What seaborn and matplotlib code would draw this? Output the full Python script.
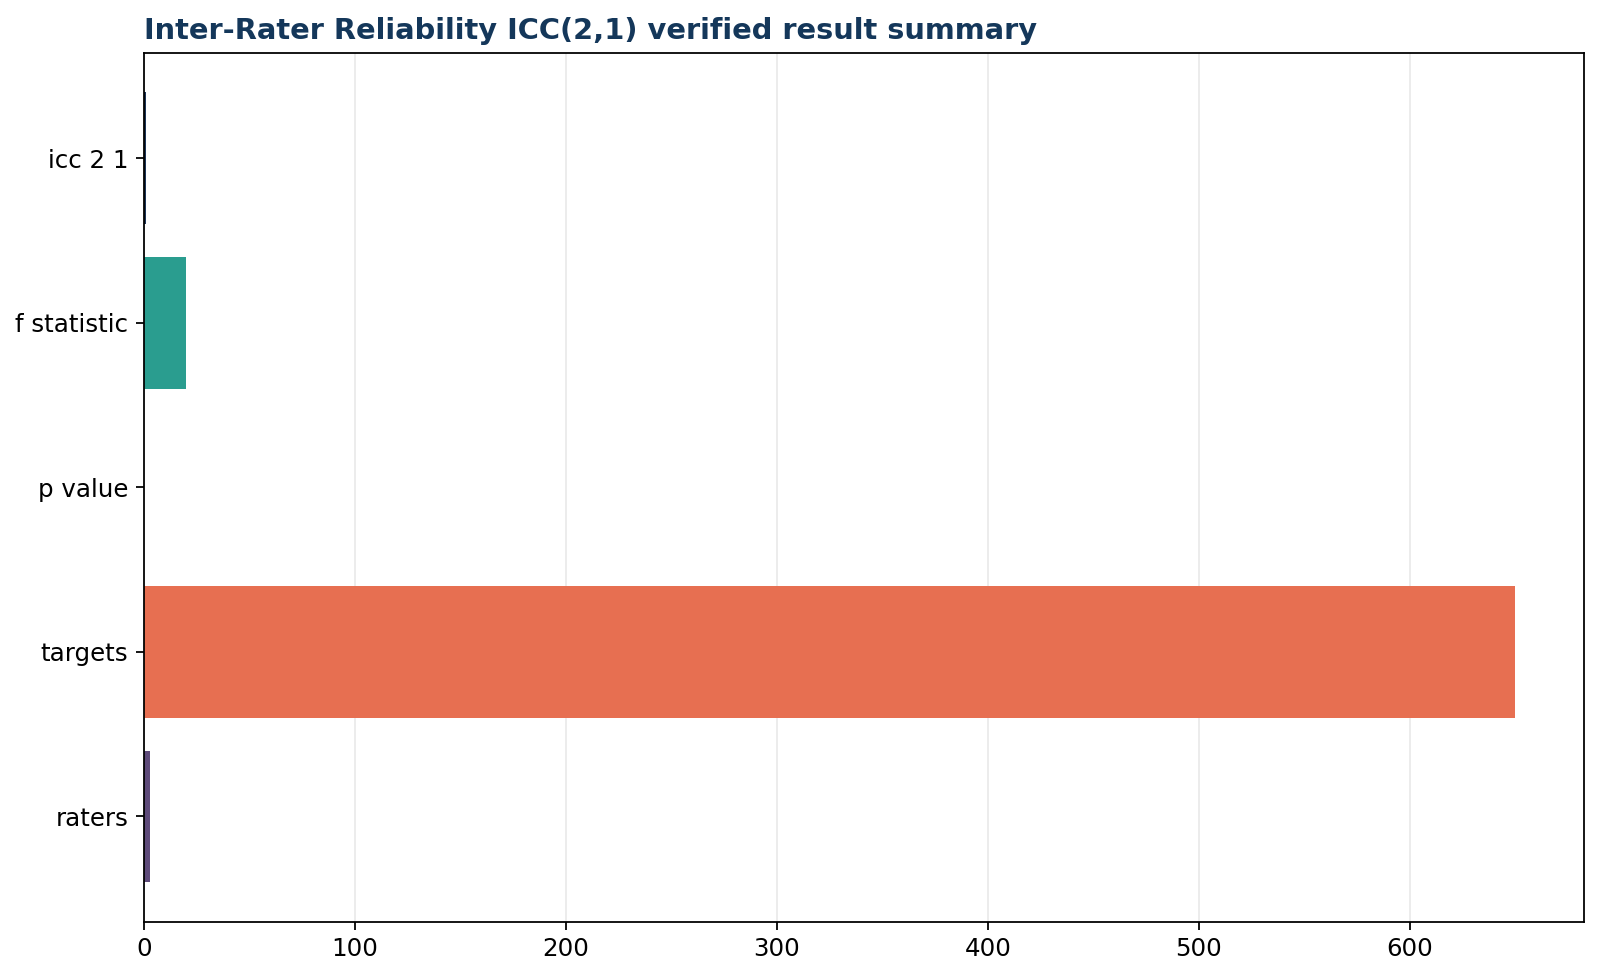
#!/usr/bin/env python3
"""ICC(2,1) verified result summary as a horizontal bar chart."""
import numpy as np, pandas as pd
import matplotlib
matplotlib.use('Agg')
import matplotlib.pyplot as plt
import seaborn as sns

METRICS = ['icc 2 1', 'f statistic', 'p value', 'targets', 'raters']
VALUES = [0.85, 20.1, 0.0001, 650, 3]
COLORS = ['#1d3557', '#2a9d8f', '#e9c46a', '#e76f51', '#5e4b7a']

plt.rcParams.update({
    'font.family': ['DejaVu Sans'], 'font.size': 11,
    'xtick.labelsize': 11, 'ytick.labelsize': 11,
})

df = pd.DataFrame({'metric': METRICS, 'value': VALUES})

fig, ax = plt.subplots(figsize=(10, 6.1125), dpi=160)
fig.subplots_adjust(left=0.09, right=0.99, top=0.946, bottom=0.0576)

sns.barplot(data=df, y='metric', x='value', hue='metric', palette=COLORS,
            orient='h', width=0.8, legend=False, saturation=1, ax=ax)

ax.set_xlim(0, max(VALUES) * 1.05)
ax.set_ylim(len(METRICS) - 1 + 0.4 + 0.24, -0.64)
ax.grid(axis='x', color='#dddddd', alpha=0.6, linewidth=0.8)
ax.set_axisbelow(True)
ax.set_xlabel('')
ax.set_ylabel('')
ax.set_title('Inter-Rater Reliability ICC(2,1) verified result summary',
             loc='left', fontsize=13, fontweight='bold', color='#14375a')

fig.savefig('out.png', dpi=160)
plt.close(fig)
